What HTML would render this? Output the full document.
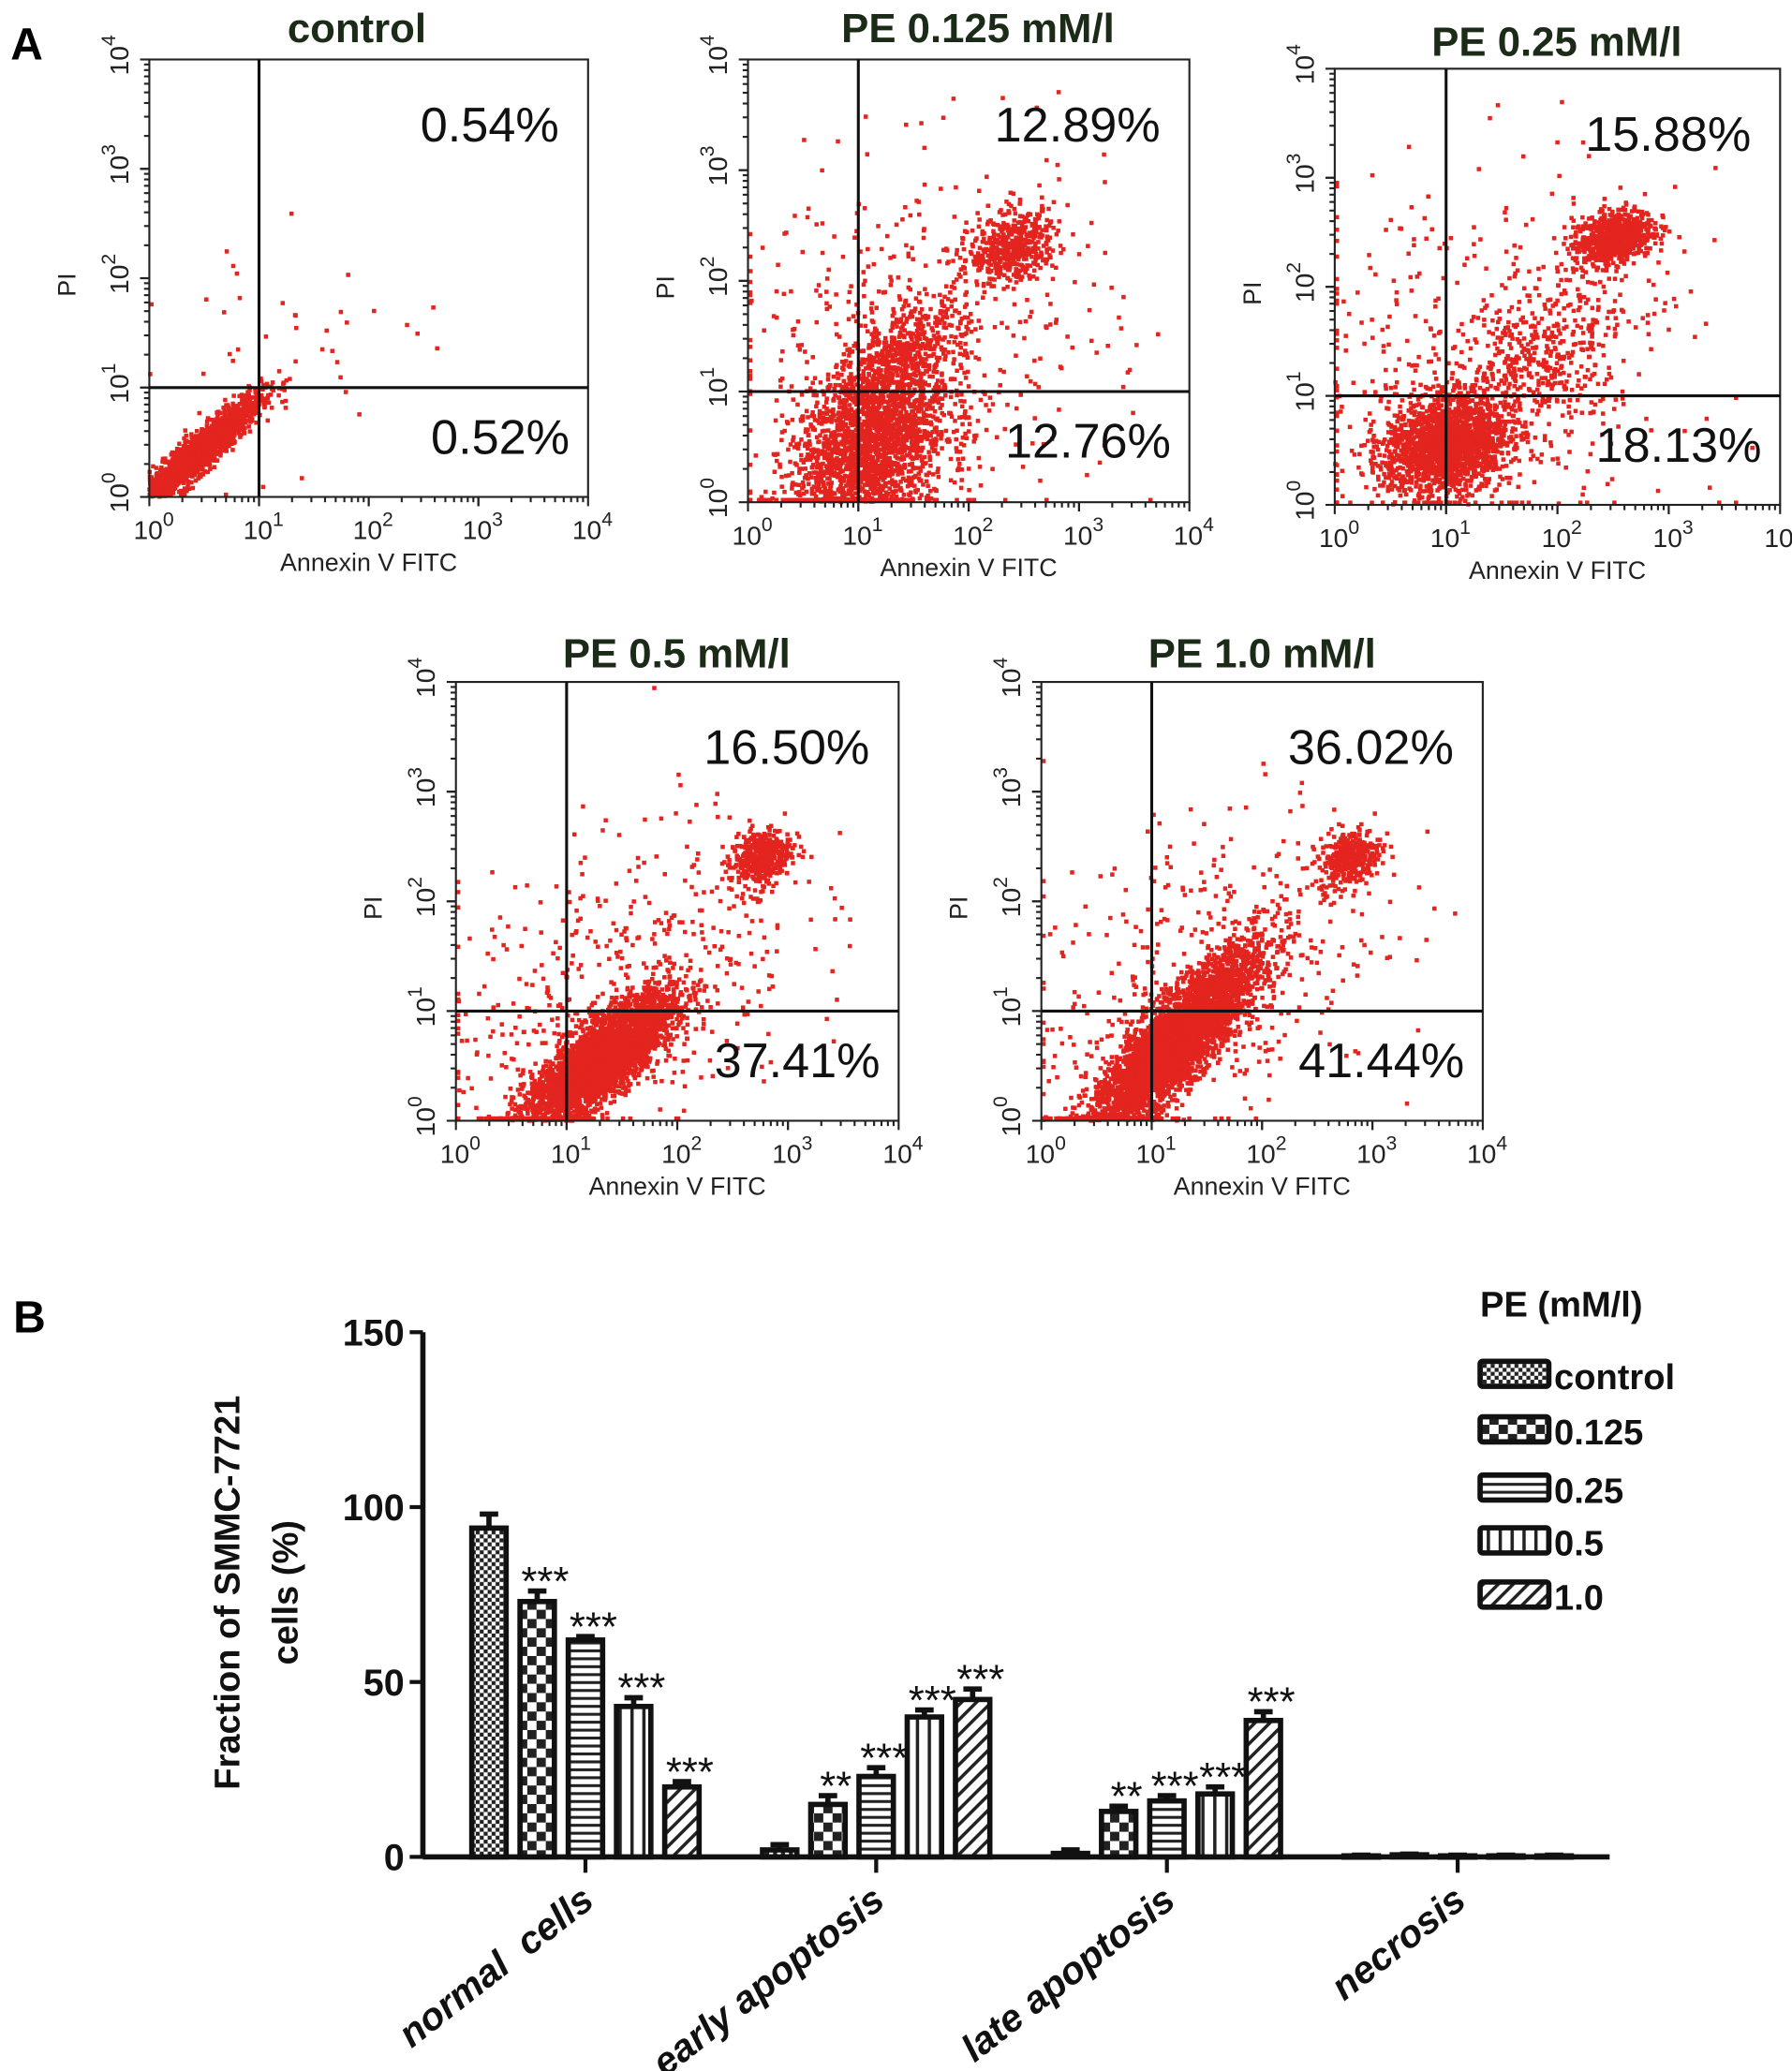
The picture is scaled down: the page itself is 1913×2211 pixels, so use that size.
<!DOCTYPE html>
<html><head><meta charset="utf-8">
<style>
html,body{margin:0;padding:0;background:#fff;}
svg{display:block;}
text{font-family:"Liberation Sans",sans-serif;}
</style></head>
<body>
<svg id="fig" width="1913" height="2211" viewBox="0 0 1356 1567" preserveAspectRatio="none" xmlns="http://www.w3.org/2000/svg">
<defs>
<pattern id="p0" width="6" height="6" patternUnits="userSpaceOnUse"><rect width="6" height="6" fill="#fff"/><rect width="3" height="3" fill="#222"/><rect x="3" y="3" width="3" height="3" fill="#222"/></pattern>
<pattern id="p1" width="14" height="14" patternUnits="userSpaceOnUse"><rect width="14" height="14" fill="#fff"/><rect width="7" height="7" fill="#222"/><rect x="7" y="7" width="7" height="7" fill="#222"/></pattern>
<pattern id="p2" width="8" height="6" patternUnits="userSpaceOnUse"><rect width="8" height="6" fill="#fff"/><rect width="8" height="2.2" fill="#222"/></pattern>
<pattern id="p3" width="9" height="8" patternUnits="userSpaceOnUse"><rect width="9" height="8" fill="#fff"/><rect width="2.5" height="8" fill="#222"/></pattern>
<pattern id="p4" width="8" height="8" patternUnits="userSpaceOnUse" patternTransform="rotate(45)"><rect width="8" height="8" fill="#fff"/><rect width="2.5" height="8" fill="#222"/></pattern>
</defs>
<text x="8" y="45" font-size="34" font-weight="bold">A</text>
<text x="10" y="1008" font-size="34" font-weight="bold">B</text>
<g id="flow"></g>
<g id="bar"></g>
</svg>
<script>
// ---------- Panel A: flow cytometry plots ----------
const plotTitles = ["control","PE 0.125 mM/l","PE 0.25 mM/l","PE 0.5 mM/l","PE 1.0 mM/l"];
const upperRightPct = ["0.54%","12.89%","15.88%","16.50%","36.02%"];
const lowerRightPct = ["0.52%","12.76%","18.13%","37.41%","41.44%"];
// clusters in log10 units: [cx, cy, sx, sy, rho, n]
const clustersControl = [[0.45,0.4,0.28,0.26,0.93,1800],[1.2,1.3,0.8,0.8,0.4,45]];
const clusters0125 = [[1.1,0.5,0.35,0.4,0.35,2000],[1.4,1.3,0.28,0.28,0.5,500],[2.4,2.3,0.2,0.16,0.3,500],[1.5,1.3,0.9,0.9,0.2,500]];
const clusters025 = [[1.0,0.55,0.28,0.22,0.2,1800],[2.5,2.45,0.18,0.13,0.3,700],[1.8,1.3,0.45,0.45,0.6,450],[1.3,1.2,0.9,0.9,0.0,420]];
const clusters05 = [[1.3,0.55,0.33,0.3,0.8,3600],[2.75,2.4,0.14,0.13,0.3,400],[1.5,1.2,0.8,0.8,0.4,500]];
const clusters10 = [[1.2,0.7,0.38,0.42,0.86,4200],[2.8,2.4,0.14,0.13,0.3,350],[1.5,1.3,0.8,0.8,0.4,450]];
const allClusters = [clustersControl,clusters0125,clusters025,clusters05,clusters10];
const boxes = [[113,45,445,376,270,22],[566,45,900,380,740,22],[1010,52,1347,382,1178,32],[345,516,680,848,512,495],[788,516,1122,848,955,495]];
const NS="http://www.w3.org/2000/svg";
function mk(tag,attrs,parent){const e=document.createElementNS(NS,tag);for(const k in attrs)e.setAttribute(k,attrs[k]);parent.appendChild(e);return e;}
let seed=12345;
function rnd(){seed=(seed*1103515245+12345)%2147483648;return seed/2147483648;}
function gauss(){let u=rnd()||1e-6,v=rnd();return Math.sqrt(-2*Math.log(u))*Math.cos(2*Math.PI*v);}
const flow=document.getElementById('flow');
boxes.forEach((b,i)=>{
  const [x0,y0,x1,y1,tx,ty]=b;
  const g=mk('g',{},flow);
  
  
  const sx=v=>x0+v/4*(x1-x0), sy=v=>y1-v/4*(y1-y0);
  const dots=mk('g',{fill:'#e3241f'},g);
  
  
  allClusters[i].forEach(c=>{
    for(let k=0;k<c[5];k++){
      const a=gauss(),bb=gauss();
      let lx=c[0]+c[2]*a, ly=c[1]+c[3]*(c[4]*a+Math.sqrt(1-c[4]*c[4])*bb);
      if(lx<0)lx=0.02; if(ly<0)ly=0.02; if(lx>4||ly>4)continue;
      mk('rect',{x:sx(lx)-1.6,y:sy(ly)-1.6,width:3.2,height:3.2},dots);
    }
  });
  mk('rect',{x:x0,y:y0,width:x1-x0,height:y1-y0,fill:'none',stroke:'#222','stroke-width':1.5},g);
  const vl=mk('line',{x1:sx(1),y1:y0,x2:sx(1),y2:y1,stroke:'#111','stroke-width':2.2},g);
  
  const hl=mk('line',{x1:x0,y1:sy(1),x2:x1,y2:sy(1),stroke:'#111','stroke-width':2.2},g);
  
  for(let d=0;d<4;d++){for(let m=1;m<=10;m++){const v=d+Math.log10(m);const L=(m===1||m===10)?7:4;
    mk('line',{x1:sx(v),y1:y1,x2:sx(v),y2:y1+L,stroke:'#222','stroke-width':1.5},g);
    mk('line',{x1:x0,y1:sy(v),x2:x0-L,y2:sy(v),stroke:'#222','stroke-width':1.5},g);}}
  for(let d=0;d<=4;d++){
    const t=mk('text',{x:sx(d)-12,y:y1+32,'font-size':20,fill:'#222'},g);
    
    
    t.innerHTML='10<tspan dy="-10" font-size="15">'+d+'</tspan>';
    const u=mk('text',{transform:`translate(${x0-16},${sy(d)+12}) rotate(-90)`,'font-size':20,fill:'#222'},g);
    
    
    u.innerHTML='10<tspan dy="-10" font-size="15">'+d+'</tspan>';
  }
  const xl=mk('text',{x:(x0+x1)/2,y:y1+56,'font-size':19,'text-anchor':'middle',fill:'#222'},g);
  
  
  xl.textContent='Annexin V FITC';
  const yl=mk('text',{transform:`translate(${x0-56},${(y0+y1)/2+5}) rotate(-90)`,'font-size':19,'text-anchor':'middle',fill:'#222'},g);
  
  
  yl.textContent='PI';
  const tt=mk('text',{x:tx,y:ty+10,'font-size':31,'font-weight':'bold','text-anchor':'middle',fill:'#1b2b18'},g);
  
  
  tt.textContent=plotTitles[i];
  const p1=mk('text',{x:x1-22,y:y0+62,'font-size':37,'text-anchor':'end',fill:'#111'},g);
  
  
  p1.textContent=upperRightPct[i];
  const p2=mk('text',{x:x1-14,y:sy(1)+50,'font-size':37,'text-anchor':'end',fill:'#111'},g);
  
  
  p2.textContent=lowerRightPct[i];
});

// ---------- Panel B: bar chart ----------
const categories = ["normal\u00a0\u00a0cells","early apoptosis","late apoptosis","necrosis"];
const seriesNames = ["control","0.125","0.25","0.5","1.0"];
const valControl = [94,2,1,0.3];
const val0125 = [73,15,13,0.6];
const val025 = [62,23,16,0.3];
const val05 = [43,40,18,0.3];
const val10 = [20,45,39,0.3];
const errControl = [4,1.5,1,0.2];
const err0125 = [3,2.5,1.5,0.2];
const err025 = [1,2.5,1.5,0.2];
const err05 = [2.5,2,2,0.2];
const err10 = [1.5,3,2.5,0.2];
const starControl = ["","","",""];
const star0125 = ["***","**","**",""];
const star025 = ["***","***","***",""];
const star05 = ["***","***","***",""];
const star10 = ["***","***","***",""];
const yTicks = [0,50,100,150];
const vals=[valControl,val0125,val025,val05,val10];
const errs=[errControl,err0125,err025,err05,err10];
const stars=[starControl,star0125,star025,star05,star10];
const bar=document.getElementById('bar');
const AX0=320, AX1=1218, AY0=1405, AY1=1008, YMAX=150;
const yS=v=>AY0-v/YMAX*(AY0-AY1);
const gC=gi=>443+gi*220;
const xB=(gi,si)=>gC(gi)+(si-2)*36.5;
const yAxis=mk('line',{x1:AX0,y1:AY1,x2:AX0,y2:AY0,stroke:'#111','stroke-width':4},bar);

const xAxis=mk('line',{x1:AX0,y1:AY0,x2:AX1,y2:AY0,stroke:'#111','stroke-width':4},bar);

yTicks.forEach(t=>{
  mk('line',{x1:AX0-10,y1:yS(t),x2:AX0,y2:yS(t),stroke:'#111','stroke-width':3},bar);
  const tx=mk('text',{x:AX0-14,y:yS(t)+10,'font-size':28,'font-weight':'bold','text-anchor':'end',fill:'#111'},bar);
  
  
  tx.textContent=t;
});
const ylab=mk('text',{transform:'translate(181,1205) rotate(-90)','font-size':27,'font-weight':'bold','text-anchor':'middle',fill:'#111'},bar);


ylab.innerHTML='<tspan x="0" y="0">Fraction of SMMC-7721</tspan><tspan x="0" y="44">cells (%)</tspan>';
categories.forEach((c,gi)=>{
  mk('line',{x1:gC(gi),y1:AY0,x2:gC(gi),y2:AY0+12,stroke:'#111','stroke-width':3},bar);
  const t=mk('text',{transform:`translate(${gC(gi)+8},${AY0+36}) rotate(-38)`,'font-size':29,'font-weight':'bold','font-style':'italic','text-anchor':'end',fill:'#111'},bar);
  
  
  t.textContent=c;
  vals.forEach((sv,si)=>{
    const v=sv[gi], e=errs[si][gi], x=xB(gi,si), w=26;
    const r=mk('rect',{x:x-w/2,y:yS(v),width:w,height:Math.max(AY0-yS(v),1),fill:`url(#p${si})`,stroke:'#111','stroke-width':4},bar);
    
    
    mk('line',{x1:x,y1:yS(v),x2:x,y2:yS(v+e),stroke:'#111','stroke-width':4},bar);
    mk('line',{x1:x-7,y1:yS(v+e),x2:x+7,y2:yS(v+e),stroke:'#111','stroke-width':4},bar);
    if(stars[si][gi]){
      const s=mk('text',{x:x+6,y:yS(v+e)+3,'font-size':31,'text-anchor':'middle',fill:'#111'},bar);
      
      
      s.textContent=stars[si][gi];
    }
  });
});
const lt=mk('text',{x:1120,y:996,'font-size':27,'font-weight':'bold',fill:'#111'},bar);


lt.textContent='PE (mM/l)';
const legY=[1041,1083,1127,1167,1208];
seriesNames.forEach((n,si)=>{
  const g=mk('g',{},bar);
  
  
  mk('rect',{x:1120,y:legY[si]-11,width:52,height:19,rx:2,fill:`url(#p${si})`,stroke:'#111','stroke-width':4},g);
  const t=mk('text',{x:1176,y:legY[si]+10,'font-size':27,'font-weight':'bold',fill:'#111'},g);
  
  
  t.textContent=n;
});
</script>
</body></html>
